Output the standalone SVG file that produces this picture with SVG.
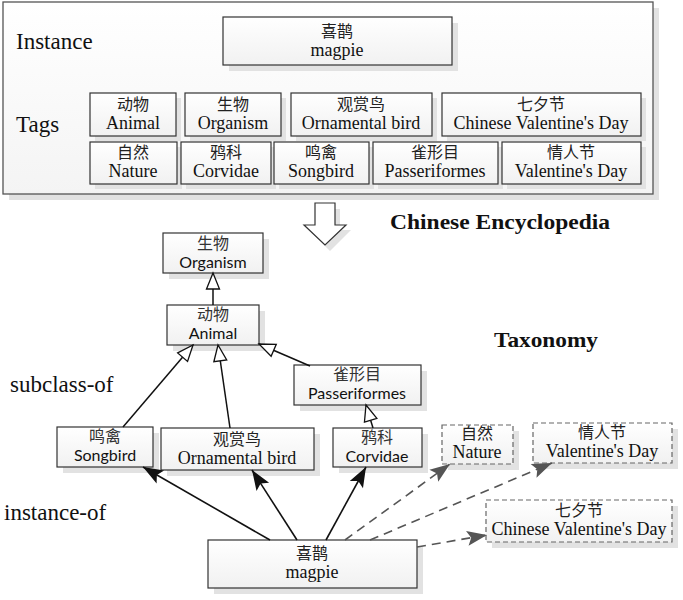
<svg xmlns="http://www.w3.org/2000/svg" width="683" height="600" viewBox="0 0 683 600">
<style>
.box{stroke:#333;stroke-width:1.2}
.sh{fill:#e2e2e2}
.dbox{stroke:#666;stroke-width:1.2;stroke-dasharray:5,3}
.cjs{font-family:"Liberation Serif","Noto Sans CJK SC",serif;font-size:16px;fill:#222;text-anchor:middle}
.lts{font-family:"Liberation Serif",serif;font-size:18px;fill:#111;text-anchor:middle}
.cjk{font-family:"Noto Sans CJK SC",sans-serif;font-size:16px;fill:#333;text-anchor:middle}
.san{font-family:Lato,"Liberation Sans",sans-serif;font-size:16px;fill:#111;text-anchor:middle}
.lab{font-family:"Liberation Serif",serif;font-size:23px;fill:#111}
.bold{font-family:"Liberation Serif",serif;font-size:22px;font-weight:bold;fill:#111}
.sub{fill:none;stroke:#111;stroke-width:1.5;marker-end:url(#hollow)}
.ins{fill:none;stroke:#111;stroke-width:1.6;marker-end:url(#solid)}
.dash{fill:none;stroke:#555;stroke-width:1.6;stroke-dasharray:9,6;marker-end:url(#gray)}
</style>
<defs>
<linearGradient id="g" x1="0" y1="0" x2="0" y2="1"><stop offset="0" stop-color="#ffffff"/><stop offset="1" stop-color="#f1f1f1"/></linearGradient>
<linearGradient id="go" x1="0" y1="0" x2="0" y2="1"><stop offset="0" stop-color="#ffffff"/><stop offset="1" stop-color="#f4f4f4"/></linearGradient>
<marker id="hollow" markerUnits="userSpaceOnUse" markerWidth="18" markerHeight="14" refX="16" refY="6.5" orient="auto" overflow="visible"><path d="M0,0 L16,6.5 L0,13 z" fill="#fff" stroke="#111" stroke-width="1.3"/></marker>
<marker id="solid" markerUnits="userSpaceOnUse" markerWidth="22" markerHeight="16" refX="20" refY="7.5" orient="auto" overflow="visible"><path d="M0,0 L20,7.5 L0,15 L4,7.5 z" fill="#111"/></marker>
<marker id="gray" markerUnits="userSpaceOnUse" markerWidth="22" markerHeight="16" refX="20" refY="7.5" orient="auto" overflow="visible"><path d="M0,0 L20,7.5 L0,15 L4,7.5 z" fill="#555"/></marker>
</defs>

<g id="encyclopedia">
<rect class="sh" x="9" y="8" width="650" height="192"/>
<rect x="3" y="2" width="650" height="192" fill="url(#go)" stroke="#555" stroke-width="1.3"/>
<text class="lab" x="16" y="49">Instance</text>
<text class="lab" x="16" y="132">Tags</text>
</g>

<g id="top-magpie">
<rect class="sh" x="229" y="23" width="229" height="48"/>
<rect class="box" x="223" y="17" width="229" height="48" fill="url(#g)"/>
<text class="cjs" x="337" y="37">喜鹊</text>
<text class="lts" x="337" y="56">magpie</text>
</g>

<g id="tag-animal">
<rect class="sh" x="95" y="98" width="86" height="43"/>
<rect class="box" x="90" y="93" width="86" height="43" fill="url(#g)"/>
<text class="cjs" x="133" y="110">动物</text>
<text class="lts" x="133" y="129">Animal</text>
</g>
<g id="tag-organism">
<rect class="sh" x="190" y="98" width="96" height="43"/>
<rect class="box" x="185" y="93" width="96" height="43" fill="url(#g)"/>
<text class="cjs" x="233" y="110">生物</text>
<text class="lts" x="233" y="129">Organism</text>
</g>
<g id="tag-ornamental">
<rect class="sh" x="296" y="98" width="141" height="43"/>
<rect class="box" x="291" y="93" width="141" height="43" fill="url(#g)"/>
<text class="cjs" x="361" y="110">观赏鸟</text>
<text class="lts" x="361" y="129">Ornamental bird</text>
</g>
<g id="tag-qixi">
<rect class="sh" x="447" y="98" width="199" height="43"/>
<rect class="box" x="442" y="93" width="199" height="43" fill="url(#g)"/>
<text class="cjs" x="541" y="110">七夕节</text>
<text class="lts" x="541" y="129">Chinese Valentine's Day</text>
</g>
<g id="tag-nature">
<rect class="sh" x="95" y="147" width="87" height="42"/>
<rect class="box" x="90" y="142" width="87" height="42" fill="url(#g)"/>
<text class="cjs" x="133" y="158">自然</text>
<text class="lts" x="133" y="177">Nature</text>
</g>
<g id="tag-corvidae">
<rect class="sh" x="186" y="147" width="90" height="42"/>
<rect class="box" x="181" y="142" width="90" height="42" fill="url(#g)"/>
<text class="cjs" x="226" y="158">鸦科</text>
<text class="lts" x="226" y="177">Corvidae</text>
</g>
<g id="tag-songbird">
<rect class="sh" x="279" y="147" width="95" height="42"/>
<rect class="box" x="274" y="142" width="95" height="42" fill="url(#g)"/>
<text class="cjs" x="321" y="158">鸣禽</text>
<text class="lts" x="321" y="177">Songbird</text>
</g>
<g id="tag-passeriformes">
<rect class="sh" x="378" y="147" width="125" height="42"/>
<rect class="box" x="373" y="142" width="125" height="42" fill="url(#g)"/>
<text class="cjs" x="435" y="158">雀形目</text>
<text class="lts" x="435" y="177">Passeriformes</text>
</g>
<g id="tag-valentine">
<rect class="sh" x="507" y="147" width="139" height="42"/>
<rect class="box" x="502" y="142" width="139" height="42" fill="url(#g)"/>
<text class="cjs" x="571" y="158">情人节</text>
<text class="lts" x="571" y="177">Valentine's Day</text>
</g>

<g id="down-arrow">
<path d="M320,209 L340,209 L340,230 L351,230 L330,251 L309,230 L320,230 z" fill="#e2e2e2"/>
<path d="M315,203 L335,203 L335,225 L346,225 L325,245 L304,225 L315,225 z" fill="#fff" stroke="#333" stroke-width="1.2"/>
</g>
<text class="bold" x="390" y="229" textLength="220" lengthAdjust="spacingAndGlyphs">Chinese Encyclopedia</text>
<text class="bold" x="494" y="347" textLength="104" lengthAdjust="spacingAndGlyphs">Taxonomy</text>
<text class="lab" x="10" y="392">subclass-of</text>
<text class="lab" x="4" y="520">instance-of</text>

<g id="organism">
<rect class="sh" x="169" y="239" width="100" height="40"/>
<rect class="box" x="163" y="233" width="100" height="40" fill="url(#g)"/>
<text class="cjk" x="213" y="249">生物</text>
<text class="san" x="213" y="268">Organism</text>
</g>
<g id="animal">
<rect class="sh" x="173" y="311" width="92" height="40"/>
<rect class="box" x="167" y="305" width="92" height="40" fill="url(#g)"/>
<text class="cjk" x="213" y="320">动物</text>
<text class="san" x="213" y="339">Animal</text>
</g>
<g id="passeriformes">
<rect class="sh" x="300" y="371" width="127" height="40"/>
<rect class="box" x="294" y="365" width="127" height="40" fill="url(#g)"/>
<text class="cjk" x="357" y="380">雀形目</text>
<text class="san" x="357" y="399">Passeriformes</text>
</g>
<g id="songbird">
<rect class="sh" x="63" y="433" width="96" height="40"/>
<rect class="box" x="57" y="427" width="96" height="40" fill="url(#g)"/>
<text class="cjk" x="105" y="442">鸣禽</text>
<text class="san" x="105" y="461">Songbird</text>
</g>
<g id="ornamental">
<rect class="sh" x="167" y="434" width="153" height="42"/>
<rect class="box" x="161" y="428" width="153" height="42" fill="url(#g)"/>
<text class="cjs" x="237" y="445">观赏鸟</text>
<text class="lts" x="237" y="464">Ornamental bird</text>
</g>
<g id="corvidae">
<rect class="sh" x="339" y="434" width="89" height="39"/>
<rect class="box" x="333" y="428" width="89" height="39" fill="url(#g)"/>
<text class="cjk" x="377" y="443">鸦科</text>
<text class="san" x="377" y="462">Corvidae</text>
</g>
<g id="nature">
<rect class="sh" x="448" y="431" width="71" height="39"/>
<rect class="dbox" x="442" y="425" width="71" height="39" fill="url(#g)"/>
<text class="cjs" x="477" y="439">自然</text>
<text class="lts" x="477" y="458">Nature</text>
</g>
<g id="valentine">
<rect class="sh" x="539" y="429" width="139" height="40"/>
<rect class="dbox" x="533" y="423" width="139" height="40" fill="url(#g)"/>
<text class="cjs" x="602" y="438">情人节</text>
<text class="lts" x="602" y="457">Valentine's Day</text>
</g>
<g id="qixi">
<rect class="sh" x="492" y="506" width="186" height="42"/>
<rect class="dbox" x="486" y="500" width="186" height="42" fill="url(#g)"/>
<text class="cjs" x="579" y="516">七夕节</text>
<text class="lts" x="579" y="535">Chinese Valentine's Day</text>
</g>
<g id="magpie">
<rect class="sh" x="214" y="546" width="209" height="48"/>
<rect class="box" x="208" y="540" width="209" height="48" fill="url(#g)"/>
<text class="cjs" x="312" y="559">喜鹊</text>
<text class="lts" x="312" y="578">magpie</text>
</g>

<g id="connectors">
<path class="sub" d="M213,305 L213,273"/>
<path class="sub" d="M123,427 L193,345"/>
<path class="sub" d="M230,428 L218,345"/>
<path class="sub" d="M310,366 L259,344"/>
<path class="sub" d="M373,428 L366,405"/>
<path class="ins" d="M270,540 L143,467"/>
<path class="ins" d="M297,540 L252,470"/>
<path class="ins" d="M326,540 L366,467"/>
<path class="dash" d="M345,540 L450,464"/>
<path class="dash" d="M370,540 L552,463"/>
<path class="dash" d="M417,547 L487,535"/>
</g>
</svg>
